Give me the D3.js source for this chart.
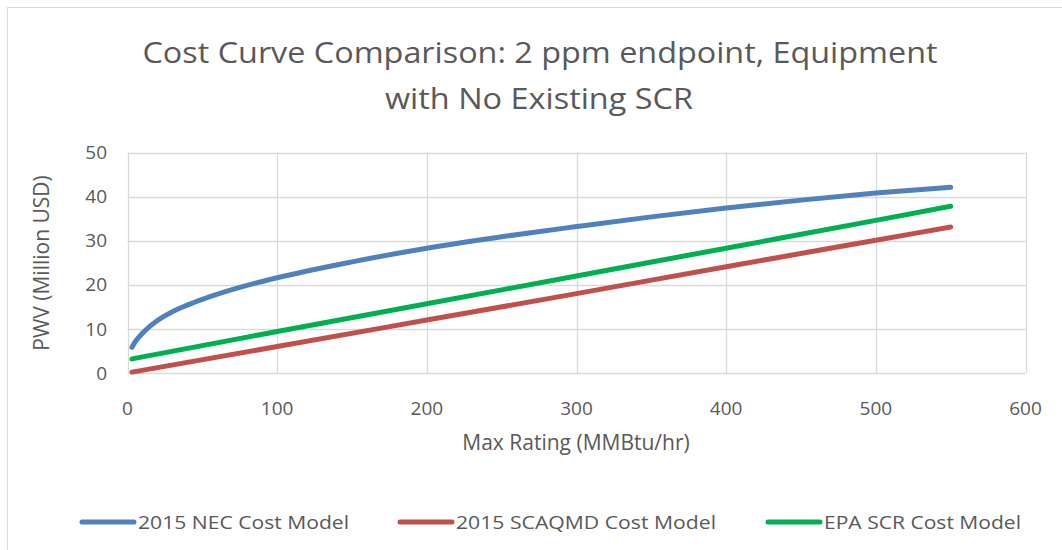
<!DOCTYPE html>
<html>
<head>
<meta charset="utf-8">
<script src="https://cdn.jsdelivr.net/npm/d3@7"></script>
<style>
  body { margin: 0; background: #fff; }
  text { font-family: "Open Sans", "Noto Sans", sans-serif; fill: #595959; }
</style>
</head>
<body>
<svg id="chart" width="1062" height="550"></svg>
<script>
// values
let necX = [3, 5, 10, 20, 30, 40, 50, 75, 100, 150, 200, 250, 300, 350, 400, 450, 500, 550];
let necY = [5.8, 7.0, 9.0, 11.9, 13.9, 15.4, 16.7, 19.4, 21.6, 25.2, 28.3, 30.9, 33.2, 35.4, 37.4, 39.2, 40.8, 42.1];

let scaqmdX = [3, 100, 200, 300, 400, 500, 550];
let scaqmdY = [0.2, 6.0, 12.0, 18.0, 24.1, 30.1, 33.1];

let epaX = [3, 100, 200, 300, 400, 500, 550];
let epaY = [3.2, 9.4, 15.7, 22.0, 28.3, 34.6, 37.8];

let xTicks = [0, 100, 200, 300, 400, 500, 600];
let yTicks = [0, 10, 20, 30, 40, 50];

let seriesNames = ["2015 NEC Cost Model", "2015 SCAQMD Cost Model", "EPA SCR Cost Model"];
let seriesColors = ["#4f81bd", "#c0504d", "#00b050"];

let svg = d3.select("#chart");
let gridColor = "#d9d9d9";

// chart frame
svg.append("rect")
  .attr("x", 7.5).attr("y", 7.5)
  .attr("width", 1070).attr("height", 570)
  .style("fill", "none")
  .style("stroke", gridColor)
  .style("stroke-width", 1);

let x = d3.scaleLinear().domain([0, 600]).range([127.5, 1025.5]);
let y = d3.scaleLinear().domain([0, 50]).range([373, 152.5]);

// gridlines
svg.append("g").selectAll("line").data(yTicks).enter().append("line")
  .attr("x1", x(0)).attr("x2", x(600))
  .attr("y1", d => Math.round(y(d)) + 0.5).attr("y2", d => Math.round(y(d)) + 0.5)
  .style("stroke", gridColor).style("stroke-width", 1.3);
svg.append("g").selectAll("line").data(xTicks).enter().append("line")
  .attr("x1", d => Math.round(x(d)) + 0.5).attr("x2", d => Math.round(x(d)) + 0.5)
  .attr("y1", y(0)).attr("y2", y(50))
  .style("stroke", gridColor).style("stroke-width", 1.3);

// tick labels
svg.append("g").selectAll("text").data(yTicks).enter().append("text")
  .attr("x", 107).attr("y", d => y(d))
  .attr("dy", "0.35em")
  .style("text-anchor", "end")
  .style("font-size", "19px")
  .text(d => d);
svg.append("g").selectAll("text").data(xTicks).enter().append("text")
  .attr("x", d => x(d)).attr("y", 408)
  .attr("dy", "0.35em")
  .style("text-anchor", "middle")
  .style("font-size", "19px")
  .text(d => d);

// axis titles
svg.append("text")
  .attr("x", 576).attr("y", 443)
  .attr("dy", "0.35em")
  .style("text-anchor", "middle")
  .style("font-size", "21px")
  .text("Max Rating (MMBtu/hr)");
svg.append("text")
  .attr("transform", "translate(42,263) rotate(-90)")
  .attr("dy", "0.35em")
  .style("text-anchor", "middle")
  .style("font-size", "21px")
  .text("PWV (Million USD)");

// title
svg.append("text")
  .attr("x", 540).attr("y", 63)
  .style("text-anchor", "middle")
  .style("font-size", "30px")
  .attr("textLength", 795).attr("lengthAdjust", "spacingAndGlyphs")
  .text("Cost Curve Comparison: 2 ppm endpoint, Equipment");
svg.append("text")
  .attr("x", 539).attr("y", 109)
  .style("text-anchor", "middle")
  .style("font-size", "30px")
  .attr("textLength", 308).attr("lengthAdjust", "spacingAndGlyphs")
  .text("with No Existing SCR");

// series lines
let line = d3.line()
  .x(d => x(d[0]))
  .y(d => y(d[1]))
  .curve(d3.curveMonotoneX);

let series = [
  d3.zip(necX, necY),
  d3.zip(scaqmdX, scaqmdY),
  d3.zip(epaX, epaY)
];

series.forEach((s, i) => {
  svg.append("path")
    .datum(s)
    .attr("d", line)
    .style("fill", "none")
    .style("stroke", seriesColors[i])
    .style("stroke-width", 5)
    .style("stroke-linecap", "round");
});

// legend
let legendX = [82, 400, 768];
let legendW = [211, 260, 197];
seriesNames.forEach((name, i) => {
  svg.append("line")
    .attr("x1", legendX[i]).attr("x2", legendX[i] + 52)
    .attr("y1", 522).attr("y2", 522)
    .style("stroke", seriesColors[i])
    .style("stroke-width", 5)
    .style("stroke-linecap", "round");
  svg.append("text")
    .attr("x", legendX[i] + 56).attr("y", 522)
    .attr("dy", "0.35em")
    .style("font-size", "19px")
    .attr("textLength", legendW[i]).attr("lengthAdjust", "spacingAndGlyphs")
    .text(name);
});
</script>
</body>
</html>
